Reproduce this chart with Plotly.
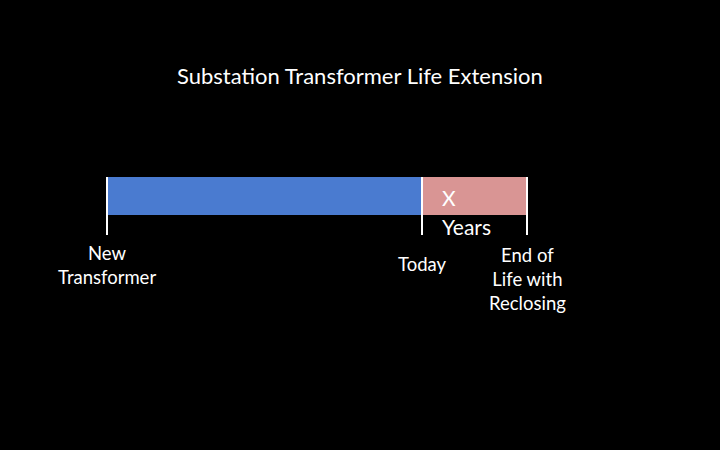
import plotly.graph_objects as go

title = "Substation Transformer Life Extension"
segments = ["Life used", "X Years"]
starts = [0, 60]
lengths = [60, 20]
colors = ["#4a7bd0", "#d99594"]
milestones = [0, 60, 80]
milestone_labels = ["New<br>Transformer", "Today", "End of<br>Life with<br>Reclosing"]

scale = 5.25
x0px = 107
xr = [-x0px / scale, (720 - x0px) / scale]

fig = go.Figure()
for s, l, c, n in zip(starts, lengths, colors, segments):
    fig.add_trace(go.Bar(x=[l], base=[s], y=[196], width=38, orientation="h",
                         marker=dict(color=c, line=dict(width=0)), name=n, showlegend=False))
for m in milestones:
    fig.add_shape(type="line", x0=m, x1=m, y0=177, y1=235, line=dict(color="white", width=2))

fam = "Lato, Open Sans, sans-serif"
font = dict(family=fam, size=18.5, color="white")
ann_y = [265, 264, 279]
for m, lab, yy in zip(milestones, milestone_labels, ann_y):
    fig.add_annotation(x=m, y=yy, text=lab, showarrow=False, font=font, align="center")
fig.add_annotation(x=(440 - x0px) / scale, y=197, text="X", showarrow=False, xanchor="left",
                   font=dict(family=fam, size=21, color="white"))
fig.add_annotation(x=(440 - x0px) / scale, y=226, text="Years", showarrow=False, xanchor="left",
                   font=dict(family=fam, size=21, color="white"))
fig.add_annotation(x=(360 - x0px) / scale, y=75, text=title, showarrow=False,
                   font=dict(family=fam, size=22, color="white"))

fig.update_layout(width=720, height=450, margin=dict(l=0, r=0, t=0, b=0),
                  paper_bgcolor="black", plot_bgcolor="black",
                  xaxis=dict(range=xr, visible=False, fixedrange=True),
                  yaxis=dict(range=[450, 0], visible=False, fixedrange=True),
                  bargap=0)
fig.write_html("out.html", config={"displayModeBar": False},
               post_script="document.body.style.margin='0';document.body.style.background='black';")
